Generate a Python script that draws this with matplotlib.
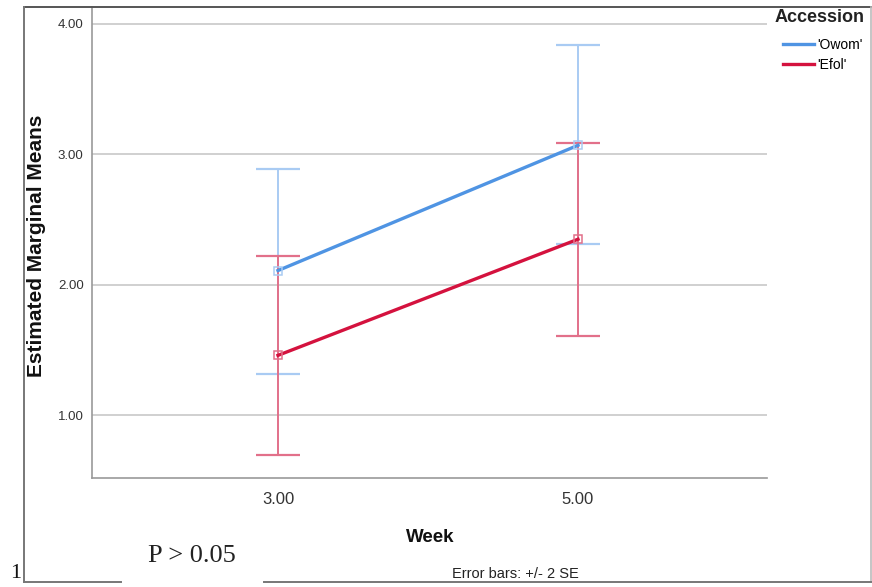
import matplotlib.pyplot as plt
from matplotlib.lines import Line2D

# data
weeks = [3, 5]
week_labels = ["3.00", "5.00"]
owom_mean = [2.11, 3.07]
owom_lo = [1.32, 2.31]
owom_hi = [2.89, 3.84]
efol_mean = [1.46, 2.35]
efol_lo = [0.70, 1.61]
efol_hi = [2.22, 3.09]

W, H = 872, 587
fig = plt.figure(figsize=(W / 100, H / 100), dpi=100)
plt.rcParams['font.family'] = ['Liberation Sans', 'DejaVu Sans']


def fx(px):
    return px / W


def fy(py):
    return 1 - py / H


ax = fig.add_axes([fx(92), fy(478), fx(767 - 92), (478 - 7) / H])

blue = '#4F94E3'
blue_eb = '#A9CBF3'
red = '#D4123E'
red_eb = '#E2708A'

for mean, lo, hi, c, ce, lab in [(owom_mean, owom_lo, owom_hi, blue, blue_eb, "'Owom'"),
                                 (efol_mean, efol_lo, efol_hi, red, red_eb, "'Efol'")]:
    err = [[m - l for m, l in zip(mean, lo)], [h - m for m, h in zip(mean, hi)]]
    ax.errorbar(weeks, mean, yerr=err, fmt='none', ecolor=ce, elinewidth=1.4,
                capsize=16, capthick=1.6, zorder=2)
    ax.plot(weeks, mean, color=c, lw=2.4, zorder=3, label=lab)
    ax.plot(weeks, mean, ls='none', marker='s', ms=5.5, mfc='none', mec=ce, mew=1.1, zorder=4)

ax.set_xlim(1.76, 6.26)
ax.set_ylim(0.52, 4.13)
ax.set_yticks([1, 2, 3, 4])
ax.set_yticklabels(['1.00', '2.00', '3.00', '4.00'], fontsize=9.5, color='#333333')
ax.set_xticks(weeks)
ax.set_xticklabels(week_labels, fontsize=12, color='#333333')
ax.tick_params(axis='x', length=0, pad=10)
ax.tick_params(axis='y', length=0, pad=6)
ax.grid(axis='y', color='#C8C8C8', lw=1.2)
ax.set_axisbelow(True)
for s in ['right', 'top']:
    ax.spines[s].set_visible(False)
for s in ['left', 'bottom']:
    ax.spines[s].set_color('#999999')
    ax.spines[s].set_linewidth(1.2)

fig.text(fx(36), fy(246), 'Estimated Marginal Means', rotation=90, ha='center', va='center',
         fontsize=15, fontweight='bold', color='#111111')
fig.text(fx(430), fy(537), 'Week', ha='center', va='center', fontsize=13.5, fontweight='bold',
         color='#111111')
fig.text(fx(515), fy(574), 'Error bars: +/- 2 SE', ha='center', va='center', fontsize=10.5,
         color='#222222')

# outer frame
fc = '#777777'
fig.add_artist(Line2D([fx(24), fx(871)], [fy(7), fy(7)], color='#555555', lw=1.4))
fig.add_artist(Line2D([fx(24), fx(24)], [fy(7), fy(582)], color=fc, lw=1.4))
fig.add_artist(Line2D([fx(871), fx(871)], [fy(7), fy(582)], color='#BBBBBB', lw=1.2))
fig.add_artist(Line2D([fx(24), fx(121)], [fy(582), fy(582)], color=fc, lw=1.4))
fig.add_artist(Line2D([fx(264), fx(871)], [fy(582), fy(582)], color=fc, lw=1.4))

# legend
fig.text(fx(775), fy(18), 'Accession', ha='left', va='center', fontsize=13, fontweight='bold',
         color='#222222')
leg = fig.legend(loc='upper left', bbox_to_anchor=(fx(783), fy(38)), frameon=False,
                 fontsize=10, handlelength=2.2, handletextpad=0.25, labelspacing=0.45,
                 borderpad=0, borderaxespad=0)

fig.text(fx(148), fy(556), 'P > 0.05', ha='left', va='center', fontsize=19,
         family='Liberation Serif', color='#222222')
fig.text(fx(10), fy(574), '1', ha='left', va='center', fontsize=16,
         family='Liberation Serif', color='#111111')

fig.savefig('out.png', dpi=100)
